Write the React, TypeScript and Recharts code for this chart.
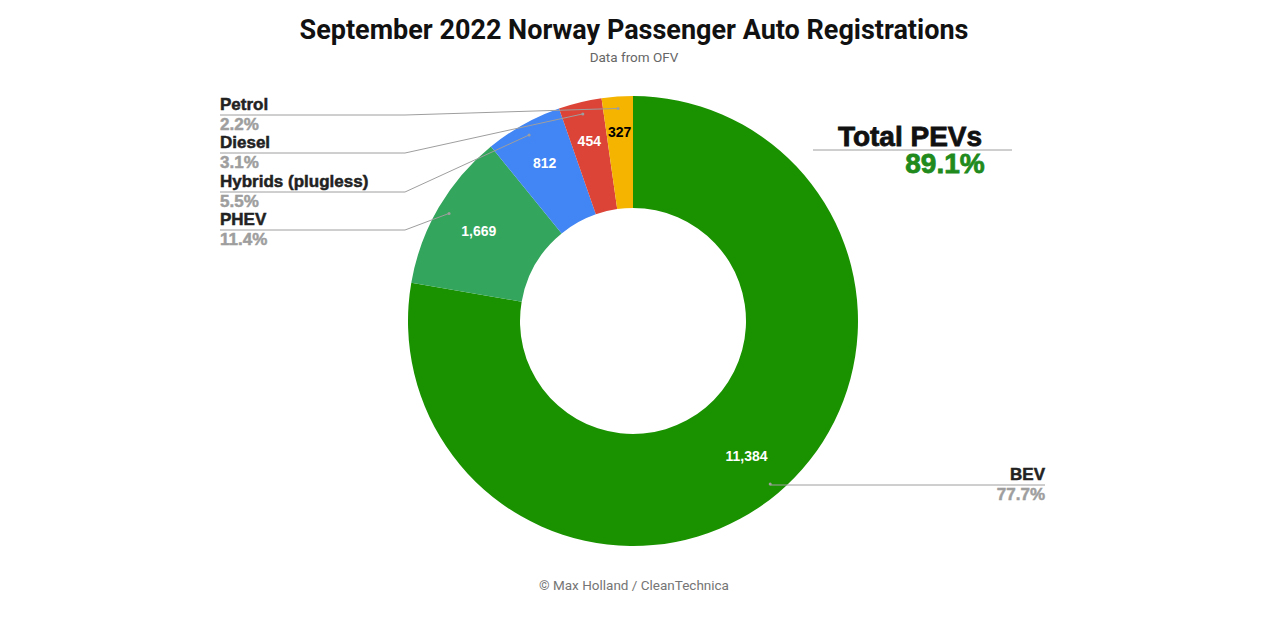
import { PieChart, Pie, Cell } from "recharts";

const categories = ["BEV", "PHEV", "Hybrids (plugless)", "Diesel", "Petrol"];
const registrations = [11384, 1669, 812, 454, 327];
const sliceColors = ["#1a9200", "#33a55c", "#4285f4", "#db4437", "#f4b400"];
const valueTextColors = ["#fff", "#fff", "#fff", "#fff", "#000"];
const pluginCategories = ["BEV", "PHEV"];

const total = registrations.reduce((a, b) => a + b, 0);
const data = categories.map((name, i) => ({ name, value: registrations[i] }));
const pevShare =
  (data.filter((d) => pluginCategories.includes(d.name)).reduce((a, d) => a + d.value, 0) /
    total) *
  100;

// where each outside label's rule sits
const labelRows: Record<string, number> = {
  Petrol: 115,
  Diesel: 153,
  "Hybrids (plugless)": 192,
  PHEV: 230,
  BEV: 485,
};

const RAD = Math.PI / 180;
const heavy = { fontFamily: "'Liberation Sans', Arial, sans-serif", fontWeight: 700 };

const renderLabel = (props: any) => {
  const { cx, cy, midAngle, outerRadius, index, name, value } = props;
  const cos = Math.cos(-midAngle * RAD);
  const sin = Math.sin(-midAngle * RAD);
  // thin slices push their number further out, like the original
  const vr = 176 + (0.3 * total) / value;
  const vx = cx + vr * cos;
  const vy = cy + vr * sin;
  const dr = outerRadius * 0.947;
  const dx = cx + dr * cos;
  const dy = cy + dr * sin;
  const rowY = labelRows[name];
  const pct = ((value / total) * 100).toFixed(1) + "%";
  const right = dx > cx;

  return (
    <g key={`lbl-${index}`}>
      <text
        x={vx}
        y={vy}
        textAnchor="middle"
        dominantBaseline="central"
        fill={valueTextColors[index]}
        style={{ ...heavy, fontSize: 14 }}
      >
        {value.toLocaleString("en-US")}
      </text>
      {right ? (
        <>
          <polyline
            points={`${dx},${dy} ${dx},${rowY} 1045,${rowY}`}
            fill="none"
            stroke="#9e9e9e"
            strokeWidth={1}
          />
          <circle cx={dx} cy={dy} r={1.5} fill="#9e9e9e" />
          <text x={1045} y={rowY - 5} textAnchor="end" fill="#222" stroke="#222" strokeWidth={0.5} style={{ ...heavy, fontSize: 17 }}>
            {name}
          </text>
          <text x={1045} y={rowY + 15} textAnchor="end" fill="#9e9e9e" stroke="#9e9e9e" strokeWidth={0.5} style={{ ...heavy, fontSize: 17 }}>
            {pct}
          </text>
        </>
      ) : (
        <>
          <polyline
            points={`${dx},${dy} 405,${rowY} 220,${rowY}`}
            fill="none"
            stroke="#9e9e9e"
            strokeWidth={1}
          />
          <circle cx={dx} cy={dy} r={1.5} fill="#9e9e9e" />
          <text x={220} y={rowY - 5} fill="#222" stroke="#222" strokeWidth={0.5} style={{ ...heavy, fontSize: 17 }}>
            {name}
          </text>
          <text x={220} y={rowY + 15} fill="#9e9e9e" stroke="#9e9e9e" strokeWidth={0.5} style={{ ...heavy, fontSize: 17 }}>
            {pct}
          </text>
        </>
      )}
    </g>
  );
};

export default function App() {
  return (
    <div style={{ position: "absolute", left: 0, top: 0, width: 1280, height: 621, background: "#fff" }}>
      <PieChart width={1280} height={621} margin={{ top: 0, right: 0, bottom: 0, left: 0 }}>
        <text
          x={634}
          y={39}
          textAnchor="middle"
          fill="#111"
          style={{ fontFamily: "Roboto, sans-serif", fontWeight: 700, fontSize: 27 }}
        >
          September 2022 Norway Passenger Auto Registrations
        </text>
        <text
          x={634}
          y={62}
          textAnchor="middle"
          fill="#666"
          style={{ fontFamily: "Roboto, sans-serif", fontSize: 13.5 }}
        >
          Data from OFV
        </text>
        <Pie
          data={data}
          dataKey="value"
          nameKey="name"
          cx={633}
          cy={321}
          innerRadius={113}
          outerRadius={225}
          startAngle={90}
          endAngle={-270}
          stroke="none"
          label={renderLabel}
          labelLine={false}
          isAnimationActive={false}
        >
          {data.map((_, i) => (
            <Cell key={i} fill={sliceColors[i]} />
          ))}
        </Pie>
        <text x={910} y={146} textAnchor="middle" fill="#111" stroke="#111" strokeWidth={0.8} style={{ ...heavy, fontSize: 28 }}>
          Total PEVs
        </text>
        <line x1={813} y1={150} x2={1012} y2={150} stroke="#9e9e9e" strokeWidth={1} />
        <text x={945} y={173} textAnchor="middle" fill="#218a1c" stroke="#218a1c" strokeWidth={0.8} style={{ ...heavy, fontSize: 28 }}>
          {pevShare.toFixed(1)}%
        </text>
        <text
          x={634}
          y={590}
          textAnchor="middle"
          fill="#757575"
          style={{ fontFamily: "Roboto, sans-serif", fontSize: 13.5 }}
        >
          © Max Holland / CleanTechnica
        </text>
      </PieChart>
    </div>
  );
}
